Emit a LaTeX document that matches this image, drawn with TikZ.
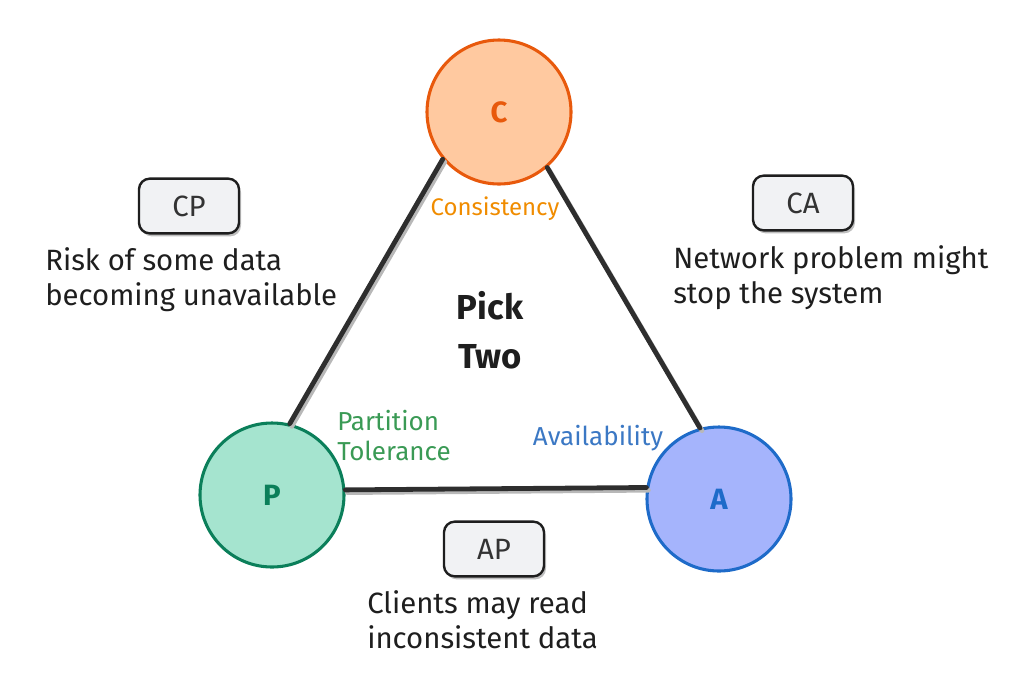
\documentclass[tikz,border=0pt]{standalone}
\usepackage{fontspec}
\setmainfont{Fira Sans}
\definecolor{Cfill}{HTML}{FFC9A0}
\definecolor{Cdraw}{HTML}{E8590C}
\definecolor{Pfill}{HTML}{A5E4CF}
\definecolor{Pdraw}{HTML}{0B7F5A}
\definecolor{Afill}{HTML}{A5B4FC}
\definecolor{Adraw}{HTML}{1E6BC9}
\definecolor{Clab}{HTML}{F08C00}
\definecolor{Plab}{HTML}{3A9A55}
\definecolor{Alab}{HTML}{3B78C4}
\definecolor{ink}{HTML}{1E1E1E}
\definecolor{edgeink}{HTML}{2E2E2E}
\definecolor{boxfill}{HTML}{F1F2F4}
\begin{document}
\begin{tikzpicture}[x=0.75pt,y=-0.75pt,
  vert/.style={circle, minimum size=108pt, inner sep=0pt, line width=2.3pt,
    font=\fontsize{22}{24}\selectfont\bfseries},
  edgeline/.style={line width=3.6pt, draw=edgeink, line cap=round},
  edgeshadow/.style={line width=3.6pt, draw=black!28, line cap=round},
  tagbox/.style={draw=ink, fill=boxfill, rounded corners=8pt, line width=1.8pt,
    minimum width=75pt, minimum height=41pt, inner sep=0pt, text=black!80,
    font=\fontsize{22}{26}\selectfont},
  tagshadow/.style={fill=black!25, rounded corners=8pt, minimum width=75pt,
    minimum height=41pt, inner sep=0pt},
  note/.style={align=left, inner sep=0pt, text=ink,
    font=\fontsize{22}{26.5}\selectfont},
  lab/.style={inner sep=0pt, font=\fontsize{18}{22.5}\selectfont}
]
\useasboundingbox (0,0) rectangle (1022,694);
% vertices
\node[vert, fill=Cfill, draw=Cdraw, text=Cdraw] (C) at (499,112) {C};
\node[vert, fill=Pfill, draw=Pdraw, text=Pdraw] (P) at (272,495) {P};
\node[vert, fill=Afill, draw=Adraw, text=Adraw] (A) at (719,499) {A};
% edges (shadow first)
\begin{scope}[transform canvas={xshift=1.5pt,yshift=-2pt}]
  \draw[edgeshadow] (C.220) -- (P.76);
  \draw[edgeshadow] (C.311) -- (A.105);
  \draw[edgeshadow] (P.4) -- (A.171);
\end{scope}
\draw[edgeline] (C.220) -- (P.76);
\draw[edgeline] (C.311) -- (A.105);
\draw[edgeline] (P.4) -- (A.171);
% property labels
\node[lab, text=Clab] (lc) at (495,209) {Consistency};
\node[lab, text=Plab, align=left, anchor=west, font=\fontsize{19.5}{22.5}\selectfont] (lp) at (337,436) {Partition\\Tolerance};
\node[lab, text=Alab, font=\fontsize{19.5}{22.5}\selectfont] (la) at (598,438) {Availability};
% center
\node[align=center, inner sep=0pt, text=ink, font=\fontsize{26}{37}\selectfont\bfseries] (pick) at (490,330) {Pick\\Two};
% tag boxes
\node[tagshadow] (cpS) at (191,209) {};
\node[tagbox] (cp) at (189,206) {CP};
\node[tagshadow] (caS) at (805,206) {};
\node[tagbox] (ca) at (803,203) {CA};
\node[tagshadow] (apS) at (496,552) {};
\node[tagbox] (ap) at (494,549) {AP};
% notes
\node[note, anchor=west] (ncp) at (45,280) {Risk of some data\\becoming unavailable};
\node[note, anchor=west] (nca) at (673,278) {Network problem might\\stop the system};
\node[note, anchor=west] (nap) at (367,620) {Clients may read\\inconsistent data};
\end{tikzpicture}
\end{document}
